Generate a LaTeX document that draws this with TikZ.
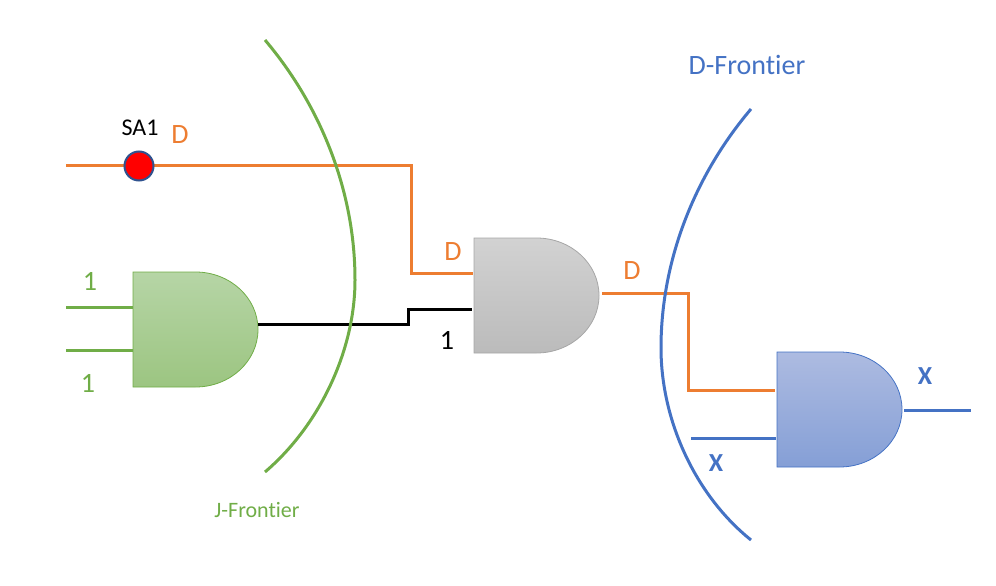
\documentclass[tikz,border=0pt]{standalone}
\usepackage{fontspec}
\setmainfont[Ligatures=NoCommon]{Carlito}
\definecolor{gOrange}{HTML}{ED7D31}
\definecolor{gGreen}{HTML}{70AD47}
\definecolor{gBlue}{HTML}{4472C4}
\definecolor{gRing}{HTML}{2F528F}
\definecolor{gGreenTop}{HTML}{B6D5A6}
\definecolor{gGreenBot}{HTML}{9CC581}
\definecolor{gGrayTop}{HTML}{D2D2D2}
\definecolor{gGrayBot}{HTML}{BBBBBB}
\definecolor{gBlueTop}{HTML}{ADBBE1}
\definecolor{gBlueBot}{HTML}{859FD6}
\tikzset{
  wire/.style={line width=3pt,line join=miter},
  frontier/.style={line width=3pt},
  lbl/.style={font=\fontsize{28}{32}\selectfont,inner sep=0pt},
  pics/andgate/.style n args={3}{code={
    \draw[draw=#3,line width=.8pt,top color=#1,bottom color=#2]
      (0,0) -- (62.5,0) arc[start angle=-90,end angle=90,x radius=62.5,y radius=57.5] -- (0,115) -- cycle;
  }}
}
\begin{document}
\begin{tikzpicture}[x=1pt,y=-1pt]
  \useasboundingbox (0,0) rectangle (996,586);

  % gates
  \pic at (133,272) {andgate={gGreenTop}{gGreenBot}{gGreen}};
  \pic at (474,238) {andgate={gGrayTop}{gGrayBot}{black!35}};
  \pic at (777,352) {andgate={gBlueTop}{gBlueBot}{gBlue}};

  % wire ends
  \coordinate (lineIn) at (66,165);
  \coordinate (greenInA) at (66,307);
  \coordinate (greenInB) at (66,350);
  \coordinate (greenPinA) at (133,307);
  \coordinate (greenPinB) at (133,350);
  \coordinate (greenOut) at (258,324);
  \coordinate (grayPinA) at (473,273);
  \coordinate (grayPinB) at (472,309);
  \coordinate (grayOut) at (602,293);
  \coordinate (bluePinA) at (775,390);
  \coordinate (bluePinB) at (776,438);
  \coordinate (blueOut) at (904,410);
  \coordinate (xIn) at (691,438);
  \coordinate (xOut) at (971,410);
  \coordinate (bendA) at (411,220);
  \coordinate (bendB) at (408,316);
  \coordinate (bendC) at (688,340);

  \draw[wire,gOrange] (lineIn) -| (bendA) |- (grayPinA);
  \draw[wire,black] (greenOut) -| (bendB) |- (grayPinB);
  \draw[wire,gOrange] (grayOut) -| (bendC) |- (bluePinA);
  \draw[wire,gGreen] (greenInA) -- (greenPinA);
  \draw[wire,gGreen] (greenInB) -- (greenPinB);
  \draw[wire,gBlue] (xIn) -- (bluePinB);
  \draw[wire,gBlue] (blueOut) -- (xOut);

  % frontiers
  \draw[frontier,gGreen] (265,40) .. controls (320,105) and (355,190) .. (355,280)
    .. controls (355,350) and (320,425) .. (265,472);
  \draw[frontier,gBlue] (751,109) .. controls (695,175) and (661,260) .. (661,348)
    .. controls (661,420) and (695,495) .. (751,540);

  % stuck-at fault
  \node[circle,fill=red,draw=gRing,line width=2pt,minimum size=29pt,inner sep=0pt] (fault) at (139,166) {};

  % labels
  \node[lbl,black,font=\fontsize{24}{28}\selectfont] (saLabel) at (140,128) {SA1};
  \node[lbl,gOrange] (dA) at (180,135) {D};
  \node[lbl,gGreen] (oneA) at (90,281) {1};
  \node[lbl,gGreen] (oneB) at (88,383) {1};
  \node[lbl,gOrange] (dB) at (453,252) {D};
  \node[lbl,black] (oneC) at (447,340) {1};
  \node[lbl,gOrange] (dC) at (632,271) {D};
  \node[lbl,gBlue,font=\fontsize{26}{30}\selectfont\bfseries] (xA) at (925,376) {X};
  \node[lbl,gBlue,font=\fontsize{26}{30}\selectfont\bfseries] (xB) at (716,463) {X};
  \node[lbl,gBlue] (dFront) at (747,65) {D-Frontier};
  \node[lbl,gGreen,font=\fontsize{22}{26}\selectfont] (jFront) at (257,510) {J-Frontier};
\end{tikzpicture}
\end{document}
